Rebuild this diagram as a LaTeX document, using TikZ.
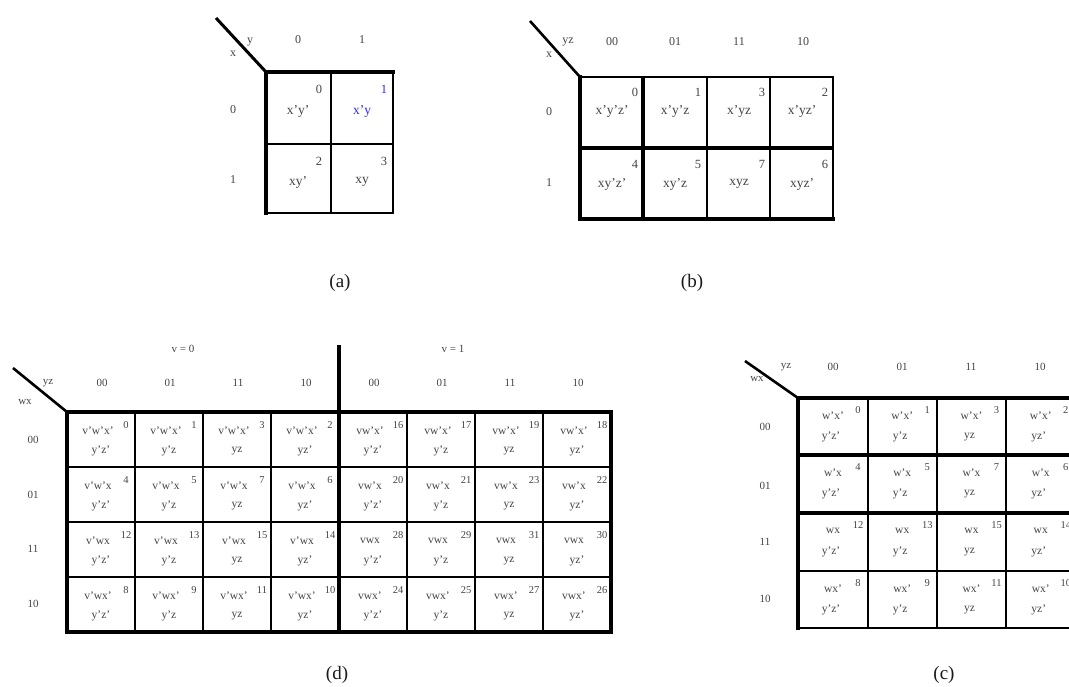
\documentclass[tikz,border=0pt]{standalone}
\usepackage{fontspec}
\setmainfont{Liberation Serif}
\definecolor{ink}{HTML}{444444}
\definecolor{capink}{HTML}{1A1A1A}
\definecolor{mintblue}{HTML}{2E2EE0}
\tikzset{
  gridline/.style={line width=1.4pt, black},
  midline/.style={line width=2.2pt, black},
  boldline/.style={line width=3.4pt, black},
  lbl/.style={text=ink, inner sep=0pt, font=\fontsize{12}{12}\selectfont},
  term/.style={text=ink, inner sep=0pt, font=\fontsize{13.5}{13.5}\selectfont},
  idx/.style={text=ink, inner sep=0pt, font=\fontsize{12.5}{12.5}\selectfont},
  dterm/.style={text=ink, inner sep=0pt, font=\fontsize{11.5}{11.5}\selectfont},
  didx/.style={text=ink, inner sep=0pt, font=\fontsize{10.5}{10.5}\selectfont},
  dlbl/.style={text=ink, inner sep=0pt, font=\fontsize{11}{11}\selectfont},
  caption/.style={text=capink, inner sep=0pt, font=\fontsize{19}{19}\selectfont},
}
\begin{document}
\begin{tikzpicture}[x=1pt,y=-1pt]
\clip (0,0) rectangle (1069,686);
\fill[white] (0,0) rectangle (1069,686);

% ---------------- (a) two-variable map ----------------
\coordinate (a-corner) at (266,72);
\coordinate (a-tail) at (216,18);
\draw[gridline] (331,72) -- (331,213) (266,144) -- (393,144);
\draw[midline] (266,213) -- (393,213) -- (393,72);
\draw[boldline, line cap=rect] (266,213) -- (a-corner) -- (393,72);
\draw[line width=3pt] (a-tail) -- (a-corner);
\node[lbl] (a-x) at (233,54) {x};
\node[lbl] (a-y) at (250,42) {y};
\node[lbl] (a-c0) at (298,40) {0};
\node[lbl] (a-c1) at (362,40) {1};
\node[lbl] (a-r0) at (233,110) {0};
\node[lbl] (a-r1) at (233,180) {1};
\node[term] (a-t0) at (298,111) {x'y'};
\node[idx]  (a-n0) at (319,89) {0};
\node[term, text=mintblue] (a-t1) at (362,111) {x'y};
\node[idx, text=mintblue] (a-n1) at (384,89) {1};
\node[term] (a-t2) at (298,182) {xy'};
\node[idx]  (a-n2) at (319,161) {2};
\node[term] (a-t3) at (362,182) {xy};
\node[idx]  (a-n3) at (384,161) {3};
\node[caption] (a-cap) at (340,283) {(a)};

% ---------------- (b) three-variable map ----------------
\coordinate (b-corner) at (580,77);
\coordinate (b-tail) at (530,21);
\draw[gridline] (707,77) -- (707,219) (770,77) -- (770,219);
\draw[midline] (b-corner) -- (833,77) -- (833,219);
\draw[boldline] (643,77) -- (643,219) (580,148) -- (833,148);
\draw[boldline, line cap=rect] (b-corner) -- (580,219) -- (833,219);
\draw[line width=2.6pt] (b-tail) -- (b-corner);
\node[lbl] (b-x) at (549,55) {x};
\node[lbl] (b-yz) at (568,42) {yz};
\foreach \c/\lab/\cx in {0/00/612, 1/01/675, 2/11/739, 3/10/803}
  \node[lbl] (b-c\c) at (\cx,42) {\lab};
\node[lbl] (b-r0) at (549,112) {0};
\node[lbl] (b-r1) at (549,183) {1};
\foreach \r/\xl/\ty/\ny/\rv in {0/x'/111/92/0, 1/x/184/164/4}
  \foreach \c/\yz/\cx/\nx/\cv in {0/y'z'/612/635/0, 1/y'z/675/698/1, 2/yz/739/762/3, 3/yz'/802/825/2}{
    \pgfmathtruncatemacro\num{\rv+\cv}
    \node[term] (b-t\r\c) at (\cx,\ty) {\xl\yz};
    \node[idx]  (b-n\r\c) at (\nx,\ny) {\num};
  }
\node[caption] (b-cap) at (692,283) {(b)};

% ---------------- (d) five-variable map ----------------
\coordinate (d-corner) at (67,412);
\coordinate (d-tail) at (13,368);
\foreach \i in {1,2,3,5,6,7}
  \draw[gridline] (67+68*\i,412) -- (67+68*\i,632);
\foreach \j in {1,2,3}
  \draw[gridline] (67,412+55*\j) -- (611,412+55*\j);
\draw[boldline, line cap=rect] (d-corner) -- (611,412) -- (611,632) -- (67,632) -- cycle;
\draw[boldline] (339,345) -- (339,632);
\draw[line width=2.6pt] (d-tail) -- (d-corner);
\node[dlbl] (d-v0) at (183,349) {v = 0};
\node[dlbl] (d-v1) at (453,349) {v = 1};
\node[dlbl] (d-yz) at (48,383) {yz};
\node[dlbl] (d-wx) at (25,402) {wx};
\foreach \i/\lab in {0/00,1/01,2/11,3/10,4/00,5/01,6/11,7/10}
  \node[dlbl] (d-c\i) at (102+68*\i,383) {\lab};
\foreach \j/\lab in {0/00,1/01,2/11,3/10}
  \node[dlbl] (d-r\j) at (33,440+54.5*\j) {\lab};
\foreach \v/\vl in {0/v', 1/v}
  \foreach \r/\wx/\rv in {0/w'x'/0, 1/w'x/1, 2/wx/3, 3/wx'/2}
    \foreach \c/\yz/\cv in {0/y'z'/0, 1/y'z/1, 2/yz/3, 3/yz'/2}{
      \pgfmathtruncatemacro\num{16*\v+4*\rv+\cv}
      \pgfmathsetmacro\left{67+68*(4*\v+\c)}
      \pgfmathsetmacro\top{412+55*\r}
      \node[dterm] (d-t\v\r\c) at (\left+31,\top+19) {\vl\wx};
      \node[dterm] (d-s\v\r\c) at (\left+34,\top+39) {\yz};
      \node[didx]  (d-n\v\r\c) at (\left+59,\top+13) {\num};
    }
\node[caption] (d-cap) at (337,675) {(d)};

% ---------------- (c) four-variable map ----------------
\coordinate (c-corner) at (798,398);
\coordinate (c-tail) at (745,361);
\foreach \x in {868,937,1006,1075}
  \draw[gridline] (\x,398) -- (\x,628);
\draw[gridline] (798,571) -- (1075,571) (798,628) -- (1075,628);
\draw[boldline] (798,455) -- (1075,455) (798,513) -- (1075,513);
\draw[boldline] (c-corner) -- (1075,398);
\draw[line width=4pt, line cap=rect] (c-corner) -- (798,628);
\draw[line width=2.6pt] (c-tail) -- (c-corner);
\node[dlbl] (c-yz) at (786,367) {yz};
\node[dlbl] (c-wx) at (757,379) {wx};
\foreach \i/\lab in {0/00,1/01,2/11,3/10}
  \node[dlbl] (c-c\i) at (833+69*\i,367) {\lab};
\foreach \j/\lab/\ry in {0/00/427, 1/01/486, 2/11/542, 3/10/599}
  \node[dlbl] (c-r\j) at (765,\ry) {\lab};
\foreach \r/\wx/\rv/\top in {0/w'x'/0/398, 1/w'x/1/455, 2/wx/3/513, 3/wx'/2/571}
  \foreach \c/\yz/\cv in {0/y'z'/0, 1/y'z/1, 2/yz/3, 3/yz'/2}{
    \pgfmathtruncatemacro\num{4*\rv+\cv}
    \pgfmathsetmacro\left{798+69.25*\c}
    \node[dterm] (c-t\r\c) at (\left+35,\top+18) {\wx};
    \node[dterm] (c-s\r\c) at (\left+33,\top+39) {\yz};
    \node[didx]  (c-n\r\c) at (\left+60,\top+12) {\num};
  }
\node[caption] (c-cap) at (944,675) {(c)};
\end{tikzpicture}
\end{document}
